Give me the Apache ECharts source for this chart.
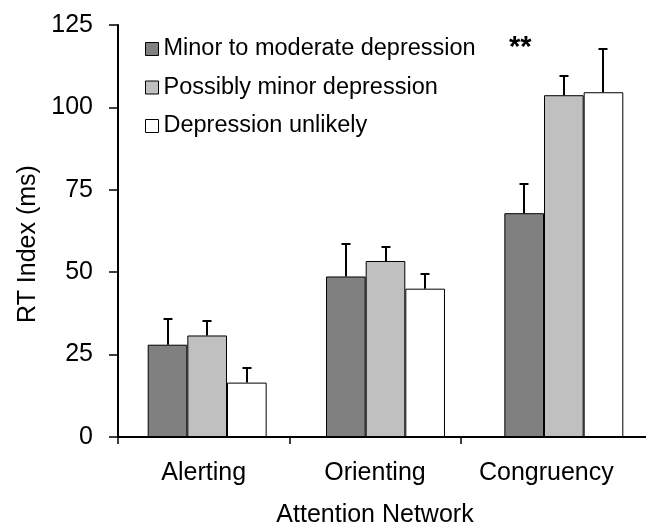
<!DOCTYPE html>
<html><head><meta charset="utf-8">
<script src="https://cdn.jsdelivr.net/npm/echarts@6/dist/echarts.min.js"></script>
<style>html,body{margin:0;padding:0;background:#fff}#c{width:646px;height:527px}</style>
</head><body><div id="c"></div>
<script>
const categories = ['Alerting', 'Orienting', 'Congruency'];
const seriesNames = ['Minor to moderate depression', 'Possibly minor depression', 'Depression unlikely'];
const minorModerate = [28, 48.7, 67.9];
const possiblyMinor = [30.8, 53.4, 103.7];
const unlikely = [16.5, 45.0, 104.6];
const errMinorModerate = [7.9, 9.9, 8.9];
const errPossiblyMinor = [4.3, 4.1, 5.7];
const errUnlikely = [4.4, 4.6, 13.1];
const yTicks = [0, 25, 50, 75, 100, 125];
const colors = ['#808080', '#c0c0c0', '#ffffff'];

const values = [minorModerate, possiblyMinor, unlikely];
const errs = [errMinorModerate, errPossiblyMinor, errUnlikely];
const FONT = 'Liberation Sans';
const gapFrac = 0.333;

const chart = echarts.init(document.getElementById('c'), null, {renderer: 'canvas'});
const barSeries = values.map((v, i) => ({
  name: seriesNames[i], type: 'bar', data: v, xAxisIndex: 1, yAxisIndex: 1,
  barGap: '0%', barCategoryGap: (gapFrac * 100) + '%',
  itemStyle: {color: colors[i], borderColor: '#000', borderWidth: 1},
  emphasis: {disabled: true}, z: 2
}));
const errSeries = values.map((v, i) => ({
  type: 'custom', name: 'err' + i, z: 3, silent: true, xAxisIndex: 1, yAxisIndex: 1,
  data: v.map((val, k) => [k, val, val + errs[i][k]]),
  renderItem: function (params, api) {
    const k = api.value(0);
    const band = api.size([1, 0])[0];
    const bw = band * (1 - gapFrac) / 3;
    const base = api.coord([k, api.value(1)]);
    const top = api.coord([k, api.value(2)]);
    const x = Math.round(base[0] + (i - 1) * bw);
    const cap = 4.5;
    const ty = Math.round(top[1]);
    return {type: 'group', children: [
      {type: 'line', shape: {x1: x, y1: base[1], x2: x, y2: ty}, style: {stroke: '#000', lineWidth: 2}},
      {type: 'line', shape: {x1: x - cap, y1: ty, x2: x + cap, y2: ty}, style: {stroke: '#000', lineWidth: 2}}
    ]};
  }
}));

const G = {top: 25, bottom: 90, containLabel: false, outerBoundsMode: 'none'};
chart.setOption({
  animation: false,
  backgroundColor: '#fff',
  textStyle: {fontFamily: FONT},
  grid: [
    Object.assign({left: 118, right: 14}, G),
    Object.assign({left: 118, right: -7}, G),
    Object.assign({left: 118, right: 185.4}, G)
  ],
  legend: {
    data: seriesNames, orient: 'vertical', left: 140, top: 32,
    itemWidth: 13, itemHeight: 13, itemGap: 14.5,
    textStyle: {fontFamily: FONT, fontSize: 23.5, color: '#000'},
    icon: 'rect',
    itemStyle: {borderColor: '#000', borderWidth: 1}
  },
  graphic: [{type: 'text', left: 509, top: 33, style: {text: '**', font: 'bold 29px ' + FONT, fill: '#000'}}],
  xAxis: [{
    type: 'category', data: categories, gridIndex: 0,
    axisLine: {show: false}, axisTick: {show: false},
    axisLabel: {fontSize: 25, color: '#000', margin: 24, fontFamily: FONT, interval: 0, hideOverlap: false},
    name: 'Attention Network', nameLocation: 'middle', nameGap: 66,
    nameTextStyle: {fontSize: 25, color: '#000', fontFamily: FONT}
  }, {
    type: 'category', data: categories, gridIndex: 1,
    axisLine: {show: true, lineStyle: {color: '#000', width: 2}},
    axisTick: {show: false}, axisLabel: {show: false}
  }, {
    type: 'category', data: categories, gridIndex: 2, boundaryGap: false,
    axisLine: {show: false}, axisLabel: {show: false},
    axisTick: {show: true, length: 7, interval: 0, lineStyle: {color: '#000', width: 1.5}}
  }],
  yAxis: [{
    type: 'value', gridIndex: 0, min: yTicks[0], max: yTicks[yTicks.length - 1], interval: 25,
    axisLine: {show: true, lineStyle: {color: '#000', width: 2}},
    axisTick: {show: true, length: 9, inside: false, lineStyle: {color: '#000', width: 1.5}},
    splitLine: {show: false},
    axisLabel: {fontSize: 25, color: '#000', margin: 25, fontFamily: FONT},
    name: 'RT Index (ms)', nameLocation: 'middle', nameGap: 77, nameRotate: 90,
    nameTextStyle: {fontSize: 25, color: '#000', fontFamily: FONT, padding: [0, 26, 0, 0]}
  }, {
    type: 'value', gridIndex: 1, min: yTicks[0], max: yTicks[yTicks.length - 1], interval: 25, show: false
  }, {
    type: 'value', gridIndex: 2, min: yTicks[0], max: yTicks[yTicks.length - 1], interval: 25, show: false
  }],
  series: barSeries.concat(errSeries)
});
</script></body></html>
